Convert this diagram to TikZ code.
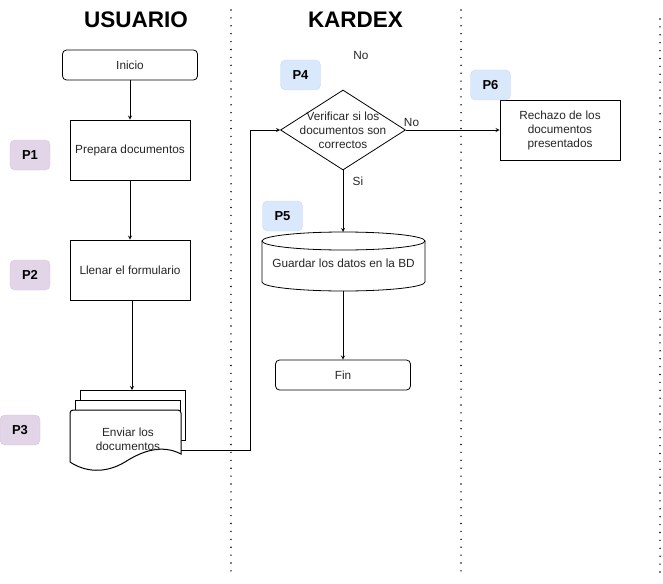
\documentclass[tikz,border=0pt]{standalone}
\usepackage{fontspec}
\setmainfont{Liberation Sans}
\usetikzlibrary{shapes.geometric}

\definecolor{lila}{HTML}{E1D5E7}
\definecolor{lilaborde}{HTML}{D3C3DC}
\definecolor{celeste}{HTML}{DAE8FC}
\definecolor{celesteborde}{HTML}{C6D9F5}

\tikzset{
  texto/.style={font=\fontsize{11.8}{14}\selectfont, text=black!85},
  proceso/.style={texto, draw, line width=0.8pt, fill=white, minimum width=120pt, minimum height=60pt, inner sep=0pt},
  terminal/.style={texto, draw, line width=0.8pt, rounded corners=4pt, fill=white, minimum height=30pt, inner sep=0pt},
  badgeU/.style={draw=lilaborde, fill=lila, rounded corners=5pt, minimum width=40pt, minimum height=30pt, inner sep=0pt, font=\fontsize{13}{15}\selectfont\bfseries},
  badgeK/.style={badgeU, draw=celesteborde, fill=celeste},
  carril/.style={line width=1.6pt, line cap=round, dash pattern=on 0pt off 7.9pt},
  flecha/.style={line width=0.8pt, black, -stealth},
}

\begin{document}
\begin{tikzpicture}[x=1pt,y=1pt]
    \useasboundingbox (0,0) rectangle (663,-583);

    % carriles
    \draw[carril] (231,-10) -- (231,-572);
    \draw[carril] (461,-10) -- (461,-572);
    \draw[carril] (660,-19) -- (660,-572);
    \node[font=\fontsize{22.5}{24}\selectfont\bfseries] (usuario) at (136,-20) {USUARIO};
    \node[font=\fontsize{22.5}{24}\selectfont\bfseries] (kardex) at (355.5,-20) {KARDEX};

    % usuario
    \node[terminal, minimum width=135pt] (inicio) at (130,-65) {Inicio};
    \node[proceso] (prepara) at (130,-150) {Prepara documentos};
    \node[proceso] (llenar) at (130,-270) {Llenar el formulario};

    \draw[fill=white, line width=0.8pt] (80,-390) rectangle (185,-440);
    \draw[fill=white, line width=0.8pt] (75,-400) rectangle (180,-445);
    \draw[fill=white, line width=1pt, rounded corners=3pt] (70,-462) -- (70,-410) -- (181,-410) [sharp corners] -- (181,-454)
      .. controls (162,-444) and (142,-451) .. (125,-462)
      .. controls (105,-474) and (85,-472) .. (70,-462) -- cycle;
    \node[texto, align=center] (enviar) at (128,-439) {Enviar los\\documentos};
    \coordinate (pila) at (132,-390);
    \coordinate (salida) at (181,-450);
    \coordinate (codo) at (250,-450);

    \node[badgeU] (p1) at (30,-155) {P1};
    \node[badgeU] (p2) at (30,-275) {P2};
    \node[badgeU] (p3) at (20,-430) {P3};

    % kardex
    \node[draw, diamond, line width=0.8pt, minimum width=125pt, minimum height=80pt, inner sep=0pt] (verificar) at (343,-130) {};
    \node[texto, align=center] at (verificar) {Verificar si los\\documentos son\\correctos};
    \node[proceso] (rechazo) at (560,-130) {};
    \node[texto, align=center] at (rechazo) {Rechazo de los\\documentos\\presentados};

    \draw[line width=0.8pt, fill=white] (262,-241) -- (262,-282) arc[start angle=180, end angle=360, x radius=81.5, y radius=9] -- (425,-241);
    \draw[line width=0.8pt, fill=white] (343.5,-241) ellipse [x radius=81.5, y radius=9];
    \node[texto] (guardar) at (343.5,-263) {Guardar los datos en la BD};
    \coordinate (bdarriba) at (343,-232);
    \coordinate (bdabajo) at (343,-291);

    \node[terminal, minimum width=135pt] (fin) at (343,-375) {Fin};

    \node[badgeK] (p4) at (300.5,-75) {P4};
    \node[badgeK] (p5) at (282.5,-216) {P5};
    \node[badgeK] (p6) at (490.5,-85) {P6};
    \node[texto] (nosuelto) at (361,-55) {No};

    % conectores
    \draw[flecha] (inicio) -- (prepara);
    \draw[flecha] (prepara) -- (llenar);
    \draw[flecha] (llenar.south -| pila) -- (pila);
    \draw[flecha] (salida) -- (codo) |- (verificar.west);
    \draw[flecha] (verificar.east) -- node[texto, pos=0.06, above] {No} (rechazo.west);
    \draw[flecha] (verificar.south) -- node[texto, pos=0.18, right=6pt] {Si} (bdarriba);
    \draw[flecha] (bdabajo) -- (fin);
\end{tikzpicture}
\end{document}
